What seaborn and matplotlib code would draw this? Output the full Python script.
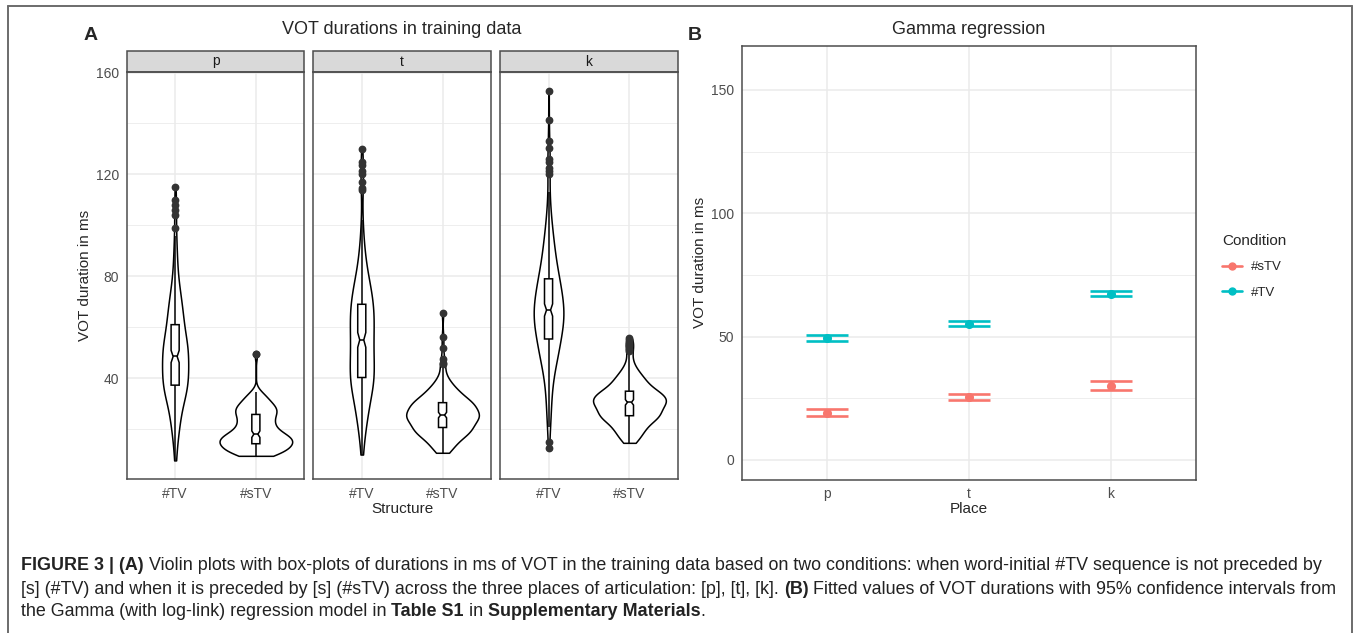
import matplotlib
matplotlib.use("Agg")
import matplotlib.pyplot as plt
import numpy as np
import pandas as pd
import seaborn as sns
from matplotlib.lines import Line2D
from matplotlib.patches import Rectangle

places = ["p", "t", "k"]
structures = ["#TV", "#sTV"]

p_tv_vals = [7.7, 12, 16, 20, 24, 28, 32, 35, 38, 41, 44, 47, 50, 53, 56, 60,
             64, 68, 72, 76, 81, 86, 91, 96, 99, 104, 106, 108, 110, 115]
p_tv_counts = [2, 2, 4, 6, 8, 10, 12, 16, 14, 16, 16, 14, 16, 16, 14, 14,
               13, 11, 9, 7, 5, 4, 3, 2, 1, 1, 1, 1, 1, 1]

p_stv_vals = [9.5, 10.5, 11.5, 12.5, 13.5, 14.5, 15.5, 16.5, 17.5, 18.5, 19.5, 20.5,
              21.5, 22.5, 23.5, 24.5, 25.5, 26.5, 27.5, 28.5, 29.5, 30.5, 31.5, 32.5,
              33.5, 34.5, 49.4]
p_stv_counts = [8, 9, 10, 11, 12, 12, 13, 13, 12, 8, 7, 6,
                6, 6, 6, 6, 5, 8, 8, 7, 6, 5, 4, 4,
                3, 3, 2]

t_tv_vals = [10, 14, 18, 22, 26, 30, 34, 38, 41, 45, 49, 53, 57, 61, 65, 68,
             72, 76, 80, 85, 90, 96, 102, 113.7, 114.5, 117, 120, 121.5, 123.5, 124.7, 129.8]
t_tv_counts = [2, 2, 4, 6, 8, 10, 12, 16, 14, 16, 16, 14, 16, 16, 14, 14,
               14, 12, 9, 7, 5, 3, 2, 1, 1, 1, 1, 1, 1, 1, 1]

t_stv_vals = [10.7, 12, 13.5, 15, 16.5, 18, 19.5, 21, 22.5, 24, 25, 26, 27.5, 29, 30,
              31.5, 33, 34.5, 36, 37.5, 39, 40.5, 42, 44, 45.5, 46, 47.7, 52, 56.2, 65.4]
t_stv_counts = [3, 4, 5, 6, 8, 11, 13, 13, 12, 12, 13, 13, 13, 12, 12,
                11, 9, 7, 6, 4, 3, 2, 1, 1, 1, 1, 1, 1, 1, 1]

k_tv_vals = [12.4, 15, 21, 24, 29, 34, 39, 44, 48, 52, 56.5, 59.5, 62.5, 65.5, 68, 71,
             74.5, 78, 82, 86, 90, 94, 98, 102, 106, 110, 113, 120, 121.5, 122.6, 125,
             126.2, 130.3, 133.3, 141.4, 152.9]
k_tv_counts = [1, 1, 2, 3, 4, 5, 7, 9, 12, 16, 15, 15, 15, 15, 15, 15,
               15, 15, 12, 10, 8, 7, 5, 4, 2, 2, 1, 1, 1, 1, 1,
               1, 1, 1, 1, 1]

k_stv_vals = [14.6, 16, 17.5, 19, 20.5, 22, 23.5, 24.5, 25.5, 27, 28.5, 30, 31, 32, 33.5,
              34.5, 36, 37.5, 39, 40.5, 42, 44, 46, 48, 49, 50.8, 51.5, 52.5, 53.5, 54.2,
              55, 55.6]
k_stv_counts = [3, 4, 5, 6, 7, 8, 8, 9, 12, 13, 13, 12, 13, 13, 12,
                12, 9, 8, 7, 6, 5, 4, 2, 1, 1, 1, 1, 1, 1, 1,
                1, 1]

# ---- panel B: fitted values with 95% CI ----
conditions = ["#sTV", "#TV"]
fit_stv = [19.2, 25.4, 30.1]
lo_stv = [17.9, 24.2, 28.3]
hi_stv = [20.6, 26.6, 32.0]
fit_tv = [49.6, 55.2, 67.4]
lo_tv = [48.4, 54.3, 66.3]
hi_tv = [50.8, 56.2, 68.6]

caption_lines = [
    [("FIGURE 3 | (A)", "bold"),
     (" Violin plots with box-plots of durations in ms of VOT in the training data based on two "
      "conditions: when word-initial #TV sequence is not preceded by", "normal")],
    [("[s] (#TV) and when it is preceded by [s] (#sTV) across the three places of articulation: "
      "[p], [t], [k]. ", "normal"),
     ("(B)", "bold"),
     (" Fitted values of VOT durations with 95% confidence intervals from", "normal")],
    [("the Gamma (with log-link) regression model in ", "normal"), ("Table S1", "bold"),
     (" in ", "normal"), ("Supplementary Materials", "bold"), (".", "normal")],
]

groups = {
    ("p", "#TV"): (p_tv_vals, p_tv_counts), ("p", "#sTV"): (p_stv_vals, p_stv_counts),
    ("t", "#TV"): (t_tv_vals, t_tv_counts), ("t", "#sTV"): (t_stv_vals, t_stv_counts),
    ("k", "#TV"): (k_tv_vals, k_tv_counts), ("k", "#sTV"): (k_stv_vals, k_stv_counts),
}
rows = []
for (place, struct), (vals, counts) in groups.items():
    for v in np.repeat(vals, counts):
        rows.append({"Place": place, "Structure": struct, "VOT": v})
dfA = pd.DataFrame(rows)

dfB = pd.DataFrame({
    "Place": places * 2,
    "Condition": ["#sTV"] * 3 + ["#TV"] * 3,
    "fit": fit_stv + fit_tv,
    "lo": lo_stv + lo_tv,
    "hi": hi_stv + hi_tv,
})
palette = {"#sTV": "#F8766D", "#TV": "#00BFC4"}

sns.set_style("white")
plt.rcParams["font.family"] = ["Liberation Sans", "DejaVu Sans"]

W, H = 1358, 633
fig = plt.figure(figsize=(W / 100, H / 100), dpi=100)


def frac(l, t, r, b):
    return [l / W, 1 - b / H, (r - l) / W, (b - t) / H]


GRID = "#EBEBEB"
BORDER = "#4D4D4D"
TICKTXT = "#4D4D4D"


def style_axes(ax):
    ax.set_axisbelow(True)
    for s in ax.spines.values():
        s.set_color(BORDER)
        s.set_linewidth(1.1)
        s.set_visible(True)
    ax.grid(True, which="major", color=GRID, linewidth=1.1)
    ax.grid(True, which="minor", axis="y", color=GRID, linewidth=0.6)
    ax.tick_params(which="major", length=3, width=0.9, color="#333333",
                   labelcolor=TICKTXT, labelsize=10, pad=2.5)
    ax.tick_params(which="minor", length=0)
    ax.set_xlabel("")
    ax.set_ylabel("")


panel_boxes = [(126.7, 72, 304.3, 479), (313.3, 72, 491, 479), (500, 72, 678, 479)]
strip_h = 21 / (479 - 72)
flier = dict(marker="o", markersize=4.6, markerfacecolor="#333333",
             markeredgecolor="#333333")

for i, place in enumerate(places):
    ax = fig.add_axes(frac(*panel_boxes[i]))
    sub = dfA[dfA["Place"] == place]
    sns.violinplot(data=sub, x="Structure", y="VOT", order=structures, cut=0,
                   density_norm="area", width=0.9, inner=None, color="white",
                   saturation=1, linecolor="black", linewidth=1.1, bw_adjust=0.8, ax=ax)
    sns.boxplot(data=sub, x="Structure", y="VOT", order=structures, width=0.1,
                notch=True, showcaps=False, color="white", saturation=1,
                linecolor="black", linewidth=1.1, flierprops=flier, ax=ax)
    ax.set_xlim(-0.6, 1.6)
    ax.set_ylim(0.4, 160.2)
    ax.set_yticks([40, 80, 120, 160])
    ax.set_yticks([20, 60, 100, 140], minor=True)
    style_axes(ax)
    if i > 0:
        ax.tick_params(axis="y", left=False, labelleft=False)
    ax.add_patch(Rectangle((0, 1), 1, strip_h, transform=ax.transAxes, clip_on=False,
                           facecolor="#D9D9D9", edgecolor=BORDER, linewidth=1.1))
    ax.text(0.5, 1 + strip_h / 2, place, transform=ax.transAxes, ha="center",
            va="center", fontsize=10, color="#1A1A1A")

fig.text(402 / W, 1 - 29 / H, "VOT durations in training data", ha="center",
         va="center", fontsize=13)
fig.text(91 / W, 1 - 36 / H, "A", ha="center", va="center", fontsize=14,
         fontweight="bold")
fig.text(402 / W, 1 - 509 / H, "Structure", ha="center", va="center", fontsize=11)
fig.text(85 / W, 1 - 275.5 / H, "VOT duration in ms", ha="center", va="center",
         rotation=90, fontsize=11)

# ---- panel B ----
axB = fig.add_axes(frac(742, 45.6, 1196, 479.7))
sns.pointplot(data=dfB, x="Place", y="fit", hue="Condition", order=places,
              hue_order=conditions, palette=palette, linestyle="none", markers="o",
              markersize=4.5, errorbar=None, dodge=False, legend=False, ax=axB)
for cond in conditions:
    d = dfB[dfB["Condition"] == cond]
    xs = np.array([places.index(p) for p in d["Place"]])
    axB.vlines(xs, d["lo"], d["hi"], color=palette[cond], linewidth=1.9, zorder=3)
    axB.hlines(d["lo"], xs - 0.15, xs + 0.15, color=palette[cond], linewidth=1.9, zorder=3)
    axB.hlines(d["hi"], xs - 0.15, xs + 0.15, color=palette[cond], linewidth=1.9, zorder=3)
axB.set_xlim(-0.6, 2.6)
axB.set_ylim(-8, 168)
axB.set_yticks([0, 50, 100, 150])
axB.set_yticks([25, 75, 125], minor=True)
style_axes(axB)

fig.text(969 / W, 1 - 29 / H, "Gamma regression", ha="center", va="center", fontsize=13)
fig.text(695 / W, 1 - 36 / H, "B", ha="center", va="center", fontsize=14,
         fontweight="bold")
fig.text(969 / W, 1 - 509 / H, "Place", ha="center", va="center", fontsize=11)
fig.text(700 / W, 1 - 262.6 / H, "VOT duration in ms", ha="center", va="center",
         rotation=90, fontsize=11)

handles = [Line2D([], [], color=palette[c], marker="o", markersize=5, linewidth=1.9)
           for c in conditions]
leg = fig.legend(handles, conditions, title="Condition", loc="upper left",
                 bbox_to_anchor=(1210 / W, 1 - 222 / H), frameon=False, fontsize=9.5,
                 title_fontsize=11, handlelength=1.5, labelspacing=1.0, handletextpad=0.7)
leg._legend_box.align = "left"

# ---- outer frame ----
fc = "#6B6B6B"
fig.add_artist(Line2D([8 / W, 8 / W], [0, 1 - 6 / H], color=fc, linewidth=1.4))
fig.add_artist(Line2D([1352 / W, 1352 / W], [0, 1 - 6 / H], color=fc, linewidth=1.4))
fig.add_artist(Line2D([8 / W, 1352 / W], [1 - 6 / H, 1 - 6 / H], color=fc, linewidth=1.4))

# ---- caption ----
renderer = fig.canvas.get_renderer()


def run_width(s, weight, size):
    t = fig.text(0, 0, "|" + s + "|", fontsize=size, fontweight=weight)
    t0 = fig.text(0, 0, "||", fontsize=size, fontweight=weight)
    w = t.get_window_extent(renderer).width - t0.get_window_extent(renderer).width
    t.remove()
    t0.remove()
    return w


base = 12
widest = max(sum(run_width(s, wt, base) for s, wt in line) for line in caption_lines)
size = base * (1336 - 21) / widest
line_y = [565, 589, 612]
for runs, y in zip(caption_lines, line_y):
    x = 21
    for s, wt in runs:
        fig.text(x / W, 1 - y / H, s, fontsize=size, fontweight=wt, color="#222222",
                 ha="left", va="center")
        x += run_width(s, wt, size)

fig.savefig("out.png", dpi=100)
